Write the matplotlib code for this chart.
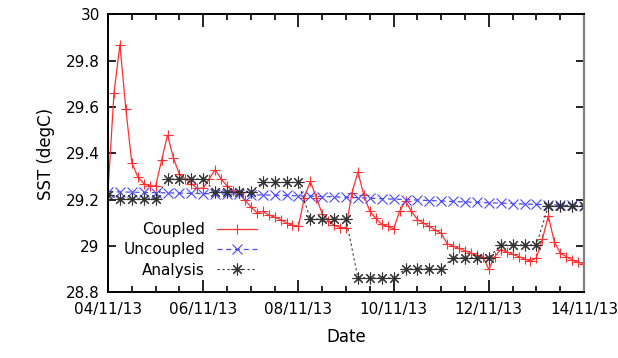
import matplotlib
matplotlib.use('Agg')
import matplotlib.pyplot as plt
import matplotlib.dates as mdates
from matplotlib.ticker import MultipleLocator, FormatStrFormatter
import numpy as np

# Coupled model SST, 3-hourly from 04/11/13 00:00
coupled = [29.24, 29.66, 29.87, 29.59, 29.36, 29.30, 29.27, 29.26,
           29.26, 29.37, 29.48, 29.38, 29.31, 29.29, 29.27, 29.25,
           29.25, 29.29, 29.33, 29.29, 29.26, 29.24, 29.23, 29.20,
           29.17, 29.145, 29.15, 29.135, 29.125, 29.115, 29.10, 29.09,
           29.085, 29.21, 29.28, 29.21, 29.14, 29.11, 29.09, 29.08,
           29.08, 29.23, 29.32, 29.22, 29.15, 29.12, 29.095, 29.085,
           29.075, 29.15, 29.195, 29.15, 29.115, 29.10, 29.085, 29.07,
           29.055, 29.01, 29.0, 28.99, 28.98, 28.97, 28.96, 28.955,
           28.90, 28.955, 28.985, 28.975, 28.965, 28.955, 28.945, 28.935,
           28.95, 29.03, 29.13, 29.02, 28.97, 28.955, 28.94, 28.93,
           28.925]

# Uncoupled model SST, 6-hourly
uncoupled = [29.235, 29.234, 29.233, 29.232, 29.231, 29.230, 29.229, 29.228,
             29.227, 29.226, 29.225, 29.224, 29.222, 29.221, 29.220, 29.219,
             29.217, 29.216, 29.214, 29.213, 29.211, 29.209, 29.207, 29.205,
             29.203, 29.201, 29.199, 29.197, 29.195, 29.193, 29.191, 29.189,
             29.187, 29.186, 29.184, 29.182, 29.180, 29.179, 29.177, 29.176,
             29.175]

# Analysis SST, 6-hourly
analysis = [29.22,
            29.205, 29.205, 29.205, 29.205,
            29.29, 29.29, 29.29, 29.29,
            29.235, 29.235, 29.235, 29.235,
            29.275, 29.275, 29.275, 29.275,
            29.117, 29.117, 29.117, 29.117,
            28.863, 28.863, 28.863, 28.863,
            28.902, 28.902, 28.902, 28.902,
            28.95, 28.95, 28.95, 28.95,
            29.005, 29.005, 29.005, 29.005,
            29.174, 29.174, 29.174, 29.174]

start = np.datetime64('2013-11-04T00:00')
t3 = start + np.arange(len(coupled)) * np.timedelta64(3, 'h')
t6 = start + np.arange(len(uncoupled)) * np.timedelta64(6, 'h')
t6a = start + np.arange(len(analysis)) * np.timedelta64(6, 'h')

fig = plt.figure(figsize=(6.18, 3.58), dpi=100)
ax = fig.add_axes([0.1748, 0.183, 0.7702, 0.7765])

ax.plot(t3, coupled, color='#ff3030', lw=0.9, marker='+', ms=7, mew=0.8,
        label='Coupled')
ax.plot(t6, uncoupled, color='#4848ff', lw=0.9, ls=(0, (4, 3)), marker='x',
        ms=6.5, mew=0.8, label='Uncoupled')
ax.plot(t6a, analysis, color='#333333', lw=0.8, ls=(0, (2, 2.5)),
        marker=(8, 2, 0), ms=8.5, mew=0.8, label='Analysis')

ax.set_xlim(np.datetime64('2013-11-04'), np.datetime64('2013-11-14'))
ax.set_ylim(28.8, 30)
ax.yaxis.set_major_locator(MultipleLocator(0.2))
ax.yaxis.set_major_formatter(FormatStrFormatter('%g'))
ax.xaxis.set_major_locator(mdates.DayLocator(interval=2))
ax.xaxis.set_minor_locator(mdates.HourLocator(byhour=[0, 12]))
ax.xaxis.set_major_formatter(mdates.DateFormatter('%d/%m/%y'))

ax.tick_params(axis='both', which='both', direction='in', top=True,
               right=True, labelsize=11, width=1.2)
ax.tick_params(axis='y', which='major', length=6, pad=6)
ax.tick_params(axis='x', which='major', length=9, pad=7)
ax.tick_params(axis='x', which='minor', length=4)

for s in ['left', 'top', 'bottom']:
    ax.spines[s].set_linewidth(1.4)
ax.spines['right'].set_linewidth(1.6)
ax.spines['right'].set_color('#808080')

ax.set_xlabel('Date', fontsize=12, labelpad=8)
ax.set_ylabel('SST (degC)', fontsize=12, labelpad=8)

ax.legend(loc='lower right', bbox_to_anchor=(0.335, 0.015), frameon=False,
          markerfirst=False, numpoints=1, fontsize=11, handlelength=2.6,
          handletextpad=0.8, labelspacing=0.35, borderpad=0.2)

fig.savefig('out.png', dpi=100)
